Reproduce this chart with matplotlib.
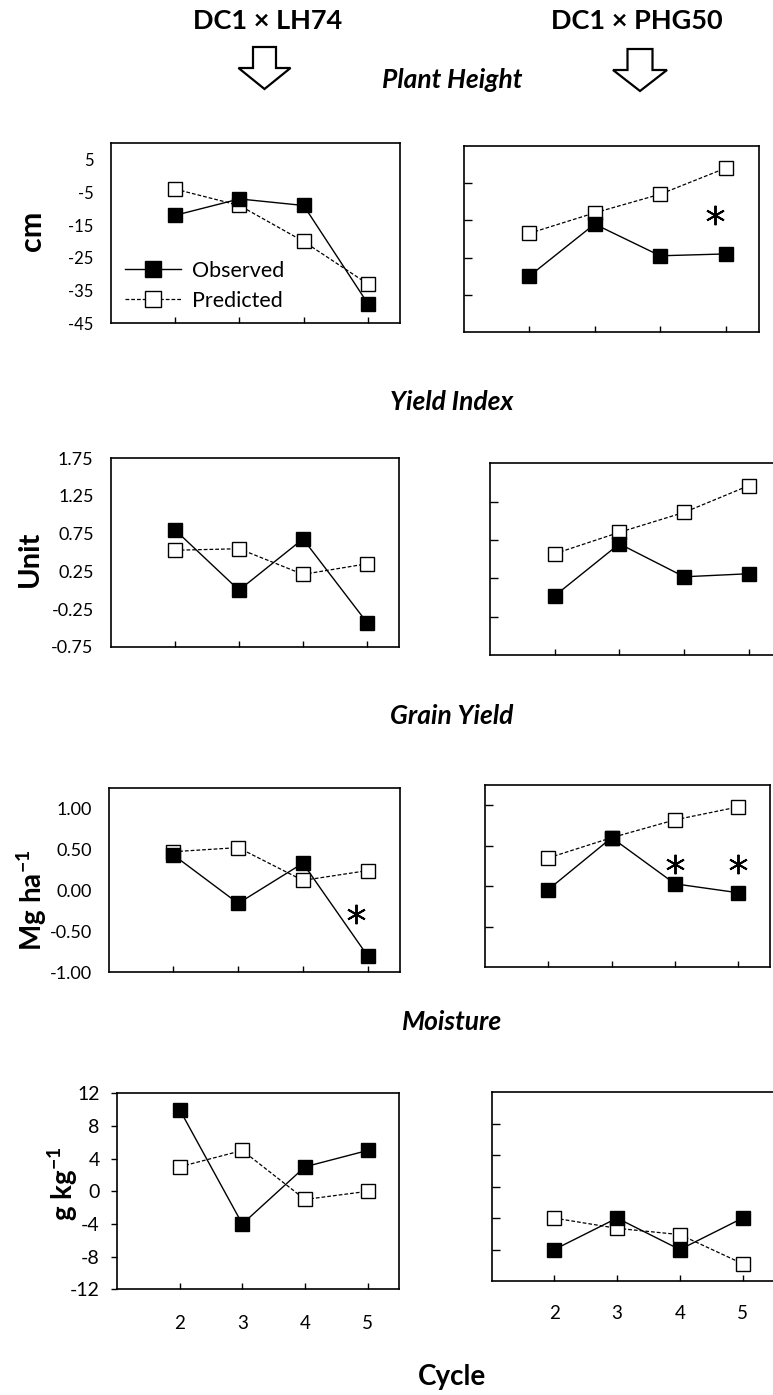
import matplotlib
matplotlib.use('Agg')
import matplotlib.pyplot as plt
from matplotlib.patches import Polygon
from matplotlib.lines import Line2D

plt.rcParams['font.family'] = ['Lato', 'DejaVu Sans']
plt.rcParams['axes.unicode_minus'] = False
plt.rcParams['mathtext.fontset'] = 'custom'
plt.rcParams['mathtext.rm'] = 'Lato'
plt.rcParams['mathtext.bf'] = 'Lato:bold'
plt.rcParams['mathtext.it'] = 'Lato:italic'

# ---------------- data ----------------
cycles = [2, 3, 4, 5]
cycle_labels = ['2', '3', '4', '5']

# Plant height (cm)
ph_lh74_obs = [-12, -7, -9, -39]
ph_lh74_pred = [-4, -9, -20, -33]
ph_phg50_obs = [-30, -16, -24.5, -24]
ph_phg50_pred = [-18.5, -13, -8, -1]

# Yield index (unit)
yi_lh74_obs = [0.80, 0.00, 0.68, -0.43]
yi_lh74_pred = [0.53, 0.55, 0.21, 0.35]
yi_phg50_obs = [0.02, 0.70, 0.27, 0.31]
yi_phg50_pred = [0.57, 0.85, 1.11, 1.46]

# Grain yield (Mg ha-1)
gy_lh74_obs = [0.43, -0.16, 0.33, -0.80]
gy_lh74_pred = [0.47, 0.52, 0.12, 0.24]
gy_phg50_obs = [-0.04, 0.60, 0.03, -0.08]
gy_phg50_pred = [0.35, 0.60, 0.82, 0.98]

# Moisture (g kg-1)
mo_lh74_obs = [10, -4, 3, 5]
mo_lh74_pred = [3, 5, -1, 0]
mo_phg50_obs = [-8, -4, -8, -4]
mo_phg50_pred = [-4, -5.3, -6.1, -9.8]

# significance asterisks (cycle, value)
ph_phg50_sig_x = [4.84]
ph_phg50_sig_y = [-13.6]
gy_lh74_sig_x = [4.82]
gy_lh74_sig_y = [-0.29]
gy_phg50_sig_x = [4, 5]
gy_phg50_sig_y = [0.28, 0.28]

# y ticks
ph_ticks = [5, -5, -15, -25, -35, -45]
ph_ticklabels = ['5', '-5', '-15', '-25', '-35', '-45']
ph_ticks_r = [-35, -25, -15, -5]
yi_ticks = [1.75, 1.25, 0.75, 0.25, -0.25, -0.75]
yi_ticklabels = ['1.75', '1.25', '0.75', '0.25', '-0.25', '-0.75']
yi_ticks_r = [-0.25, 0.25, 0.75, 1.25]
gy_ticks = [1.0, 0.5, 0.0, -0.5, -1.0]
gy_ticklabels = ['1.00', '0.50', '0.00', '-0.50', '-1.00']
gy_ticks_r = [-0.5, 0.0, 0.5, 1.0]
mo_ticks = [12, 8, 4, 0, -4, -8, -12]
mo_ticklabels = ['12', '8', '4', '0', '-4', '-8', '-12']
mo_ticks_r = [-8, -4, 0, 4, 8]

# ---------------- figure ----------------
W, H = 773, 1395
fig = plt.figure(figsize=(W / 100, H / 100), dpi=100)


def box(x0, y0, x1, y1):
    return [x0 / W, 1 - y1 / H, (x1 - x0) / W, (y1 - y0) / H]


def fx(x):
    return x / W


def fy(y):
    return 1 - y / H


def panel(rect, obs, pred, ylim, yticks, ylabels=None, tick_fs=12, ypad=13,
          xlabels=False, xpad=17, ms=9.8, yout=False):
    ax = fig.add_axes(rect)
    ax.plot(cycles, pred, color='black', lw=0.9, ls=(0, (3, 1.6)), marker='s',
            ms=ms, mfc='white', mec='black', mew=1.0, zorder=3)
    ax.plot(cycles, obs, color='black', lw=1.0, ls='-', marker='s',
            ms=ms, mfc='black', mec='black', mew=1.0, zorder=4)
    ax.set_xlim(1, 5.5)
    ax.set_ylim(*ylim)
    ax.set_xticks(cycles)
    if xlabels:
        ax.set_xticklabels(cycle_labels, fontsize=13.5)
    else:
        ax.set_xticklabels([])
    ax.tick_params(axis='x', direction='in', length=4.5, width=1.0, pad=xpad)
    ax.set_yticks(yticks)
    if ylabels is not None:
        ax.set_yticklabels(ylabels, fontsize=tick_fs)
        if yout:
            ax.tick_params(axis='y', direction='out', length=4, width=1.0, pad=ypad)
        else:
            ax.tick_params(axis='y', length=0, pad=ypad)
    else:
        ax.set_yticklabels([])
        ax.tick_params(axis='y', direction='in', length=6, width=1.0)
    for s in ax.spines.values():
        s.set_linewidth(1.2)
        s.set_color('black')
    return ax


def star(ax, xs, ys):
    ax.plot(xs, ys, ls='none', marker=(6, 2, 0), ms=14, mew=1.4, color='black',
            zorder=5)


# Row 1: Plant height
ax1 = panel(box(111, 143.3, 400, 323.3), ph_lh74_obs, ph_lh74_pred, (-45, 10),
            ph_ticks, ph_ticklabels, tick_fs=12, ypad=12.5)
ax2 = panel(box(463.5, 145.7, 758.5, 332.3), ph_phg50_obs, ph_phg50_pred, (-45, 5),
            ph_ticks_r)
star(ax2, ph_phg50_sig_x, ph_phg50_sig_y)

h_obs = Line2D([], [], color='black', lw=1.0, marker='s', ms=11, mfc='black', mec='black')
h_pred = Line2D([], [], color='black', lw=0.9, ls=(0, (3, 1.6)), marker='s', ms=11,
                mfc='white', mec='black')
ax1.legend([h_obs, h_pred], ['Observed', 'Predicted'], loc='lower left',
           bbox_to_anchor=(0.05, 0.07), frameon=False, fontsize=15.5, handlelength=2.6,
           handletextpad=0.5, labelspacing=0.45, borderpad=0, borderaxespad=0)

# Row 2: Yield index
panel(box(111, 458.3, 399, 646.7), yi_lh74_obs, yi_lh74_pred, (-0.75, 1.75),
      yi_ticks, yi_ticklabels, tick_fs=13, ypad=12.5)
panel(box(489.7, 463.3, 781.5, 655), yi_phg50_obs, yi_phg50_pred, (-0.75, 1.75),
      yi_ticks_r)

# Row 3: Grain yield
ax5 = panel(box(108.7, 787.7, 400, 972.3), gy_lh74_obs, gy_lh74_pred, (-1.0, 1.25),
            gy_ticks, gy_ticklabels, tick_fs=13, ypad=12)
star(ax5, gy_lh74_sig_x, gy_lh74_sig_y)
ax6 = panel(box(485, 785, 770, 967.3), gy_phg50_obs, gy_phg50_pred, (-1.0, 1.25),
            gy_ticks_r)
star(ax6, gy_phg50_sig_x, gy_phg50_sig_y)

# Row 4: Moisture
panel(box(117, 1093.3, 399, 1289.3), mo_lh74_obs, mo_lh74_pred, (-12, 12),
      mo_ticks, mo_ticklabels, tick_fs=14, ypad=8.5, xlabels=True, xpad=18.5, yout=True)
panel(box(491.5, 1092.3, 774, 1281), mo_phg50_obs, mo_phg50_pred, (-12, 12),
      mo_ticks_r, xlabels=True, xpad=17)

# ---------------- texts ----------------
fig.text(fx(268), fy(21), 'DC1 × LH74', ha='center', va='center', fontsize=19.5,
         fontweight='bold')
fig.text(fx(637), fy(21), 'DC1 × PHG50', ha='center', va='center', fontsize=19.5,
         fontweight='bold')
for title, yc in [('Plant Height', 80), ('Yield Index', 402), ('Grain Yield', 716),
                  ('Moisture', 1022)]:
    fig.text(fx(452), fy(yc), title, ha='center', va='center', fontsize=19,
             fontweight='bold', fontstyle='italic')
fig.text(fx(452), fy(1377), 'Cycle', ha='center', va='center', fontsize=20,
         fontweight='bold')

for lab, xc, yc, fs in [('cm', 32, 231, 22), ('Unit', 30, 559, 21),
                        (r'$\mathbf{Mg\ ha^{-1}}$', 32, 900, 20),
                        (r'$\mathbf{g\ kg^{-1}}$', 63, 1184, 20)]:
    fig.text(fx(xc), fy(yc), lab, ha='center', va='center', rotation=90,
             fontsize=fs, fontweight='bold')


def hollow_arrow(xc, ytop, ybase, ytip, shaft_w, head_w):
    pts = [(xc - shaft_w / 2, ytop), (xc + shaft_w / 2, ytop), (xc + shaft_w / 2, ybase),
           (xc + head_w / 2, ybase), (xc, ytip), (xc - head_w / 2, ybase),
           (xc - shaft_w / 2, ybase)]
    poly = Polygon([(fx(x), fy(y)) for x, y in pts], closed=True, facecolor='white',
                   edgecolor='black', lw=1.6, transform=fig.transFigure)
    fig.patches.append(poly)


hollow_arrow(264.5, 47, 68, 89, 23, 52)
hollow_arrow(640, 49, 70, 91, 25, 54)

fig.savefig('out.png', dpi=100)
